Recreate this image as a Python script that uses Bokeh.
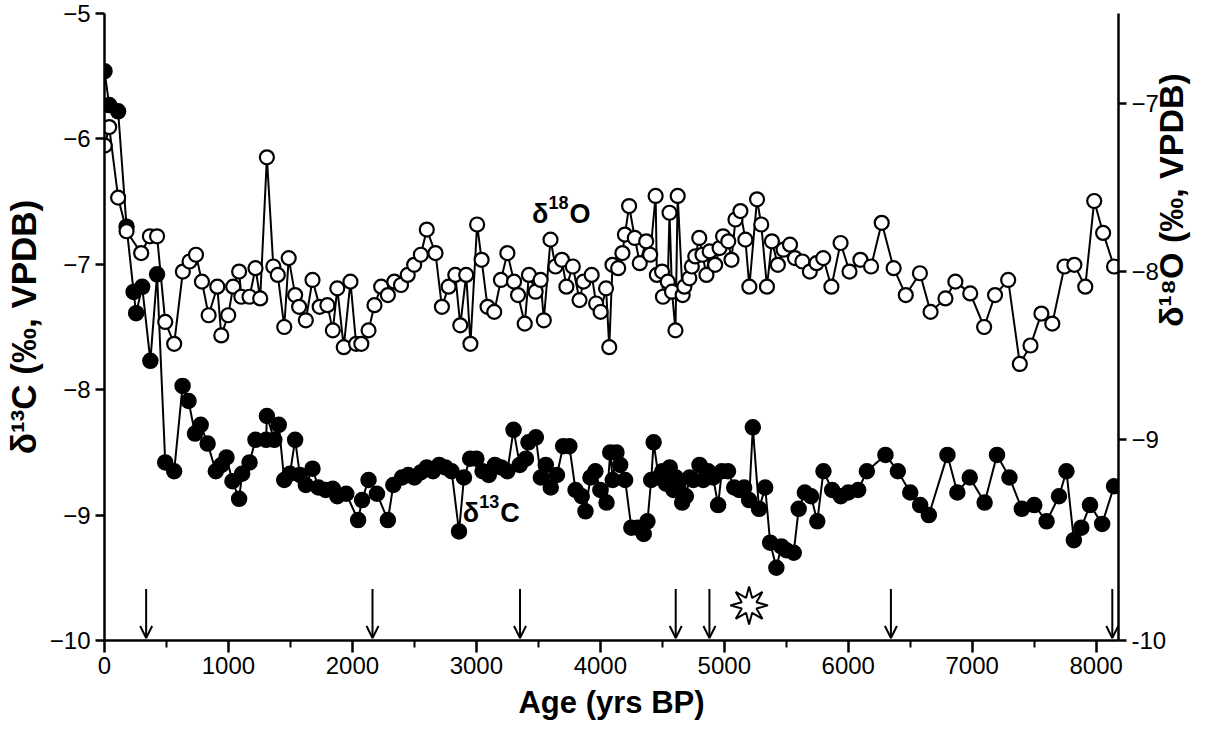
import math
from bokeh.plotting import figure
from bokeh.models import Range1d, LinearAxis, FixedTicker, Arrow, OpenHead, Label, ColumnDataSource
from bokeh.embed import file_html
from bokeh.resources import INLINE

# ---------------- data ----------------
c13_age = [0, 38, 110, 178, 235, 255, 304, 370, 424, 490, 562, 630, 678, 730, 776, 832, 898, 944, 984,
           1032, 1086, 1110, 1170, 1218, 1304, 1310, 1370, 1406, 1450, 1496, 1538, 1576, 1624, 1678,
           1726, 1784, 1842, 1878, 1950, 2046, 2078, 2130, 2198, 2286, 2330,
           2400, 2450, 2500, 2550, 2600, 2650, 2700, 2750, 2800, 2860, 2900, 2950, 3000, 3050, 3100,
           3150, 3200, 3250, 3300, 3350, 3400, 3420, 3480, 3520, 3560, 3600, 3650, 3700, 3750, 3800,
           3850, 3880, 3920, 3960, 4000, 4050, 4080, 4100, 4130, 4160, 4200, 4250, 4300, 4350, 4380,
           4410, 4430, 4470, 4500, 4530, 4560, 4590, 4610, 4630, 4660, 4690, 4720, 4750, 4800, 4830,
           4870, 4910, 4950, 4980, 5030, 5080, 5120, 5160, 5200, 5230, 5280, 5330, 5370, 5420, 5460,
           5500, 5560, 5600, 5650, 5700, 5750, 5800, 5870, 5940, 6000, 6080, 6150, 6300, 6400, 6500,
           6580, 6650, 6800, 6880, 6980, 7100, 7200, 7300, 7400, 7500, 7600, 7700, 7760, 7820, 7880,
           7950, 8048, 8144]
c13_val = [-5.46, -5.73, -5.78, -6.70, -7.22, -7.39, -7.18, -7.77, -7.08, -8.58, -8.65, -7.97, -8.09,
           -8.35, -8.28, -8.43, -8.65, -8.60, -8.54, -8.73, -8.87, -8.67, -8.58, -8.40, -8.40, -8.21,
           -8.40, -8.28, -8.72, -8.67, -8.40, -8.68, -8.76, -8.63, -8.78, -8.80, -8.79, -8.85, -8.83,
           -9.04, -8.88, -8.72, -8.83, -9.04, -8.76,
           -8.70, -8.68, -8.70, -8.66, -8.62, -8.65, -8.60, -8.62, -8.65, -9.13, -8.70, -8.55, -8.55,
           -8.65, -8.68, -8.60, -8.62, -8.65, -8.32, -8.60, -8.55, -8.42, -8.38, -8.70, -8.60, -8.78,
           -8.68, -8.45, -8.45, -8.80, -8.85, -8.97, -8.70, -8.65, -8.80, -8.90, -8.50, -8.72, -8.50,
           -8.60, -8.72, -9.10, -9.10, -9.15, -9.05, -8.72, -8.42, -8.70, -8.65, -8.75, -8.62, -8.80,
           -8.70, -8.78, -8.90, -8.85, -8.70, -8.72, -8.60, -8.72, -8.65, -8.70, -8.92, -8.65, -8.65,
           -8.78, -8.80, -8.78, -8.88, -8.30, -8.95, -8.78, -9.22, -9.42, -9.25, -9.28, -9.30, -8.95,
           -8.82, -8.85, -9.05, -8.65, -8.80, -8.85, -8.82, -8.80, -8.65, -8.52, -8.65, -8.82, -8.92,
           -9.00, -8.52, -8.82, -8.70, -8.90, -8.52, -8.70, -8.95, -8.92, -9.05, -8.85, -8.65, -9.20,
           -9.10, -8.92, -9.07, -8.77]

o18_age = [2, 38, 110, 178, 296, 366, 424, 490, 562, 632, 686, 738, 786, 840, 910, 942, 998, 1038,
           1086, 1104, 1170, 1218, 1256, 1310, 1362, 1398, 1450, 1486, 1538, 1570, 1624, 1678, 1736,
           1798, 1842, 1878, 1930, 1984, 2030, 2072, 2130, 2178, 2232, 2286, 2338, 2392, 2446, 2498,
           2552, 2600, 2670, 2722, 2776, 2830, 2870, 2918, 2952, 3006, 3042, 3090, 3144, 3198, 3250,
           3304, 3336, 3390, 3424, 3478, 3518, 3544, 3598, 3638, 3690, 3726, 3778, 3832, 3864, 3930,
           3966, 4002, 4046, 4072, 4098, 4144, 4178, 4198, 4232, 4278, 4318, 4370, 4402, 4446, 4456,
           4498, 4505, 4544, 4558, 4578, 4606, 4624, 4664, 4678, 4718, 4738, 4766, 4798, 4824, 4856,
           4882, 4926, 4962, 4990, 5032, 5058, 5090, 5130, 5170, 5202, 5264, 5298, 5344, 5384, 5432,
           5478, 5530, 5570, 5630, 5690, 5744, 5798, 5864, 5938, 6010, 6098, 6184, 6270, 6366, 6464,
           6578, 6664, 6784, 6864, 6984, 7096, 7184, 7290, 7384, 7470, 7558, 7646, 7744, 7824, 7912,
           7984, 8056, 8144]
o18_val = [-7.25, -7.14, -7.56, -7.76, -7.89, -7.79, -7.79, -8.30, -8.43, -8.00, -7.94, -7.90, -8.06,
           -8.26, -8.09, -8.38, -8.26, -8.09, -8.00, -8.15, -8.15, -7.98, -8.16, -7.32, -7.97, -8.02,
           -8.33, -7.92, -8.14, -8.21, -8.29, -8.05, -8.21, -8.20, -8.35, -8.10, -8.45, -8.06, -8.43,
           -8.43, -8.35, -8.20, -8.09, -8.14, -8.06, -8.08, -8.02, -7.96, -7.90, -7.75, -7.89, -8.21,
           -8.09, -8.02, -8.32, -8.02, -8.43, -7.72, -7.93, -8.21, -8.24, -8.05, -7.89, -8.06, -8.14,
           -8.31, -8.02, -8.12, -8.05, -8.29, -7.81, -7.97, -7.93, -8.09, -7.97, -8.17, -8.06, -8.02,
           -8.19, -8.24, -8.10, -8.45, -7.96, -7.98, -7.89, -7.78, -7.61, -7.80, -7.95, -7.82, -7.90,
           -7.55, -8.02, -8.00, -8.15, -8.06, -7.65, -8.12, -8.35, -7.55, -8.14, -8.09, -8.04, -7.97,
           -7.91, -7.80, -7.90, -8.02, -7.88, -7.96, -7.86, -7.79, -7.82, -7.93, -7.69, -7.64, -7.81,
           -8.09, -7.57, -7.72, -8.09, -7.82, -7.96, -7.87, -7.84, -7.92, -7.94, -8.00, -7.95, -7.92,
           -8.09, -7.83, -8.00, -7.93, -7.97, -7.71, -7.98, -8.14, -8.01, -8.24, -8.16, -8.06, -8.13,
           -8.33, -8.14, -8.05, -8.55, -8.44, -8.25, -8.31, -7.97, -7.96, -8.09, -7.58, -7.77, -7.97]

arrow_age = [336, 2162, 3352, 4608, 4880, 6344, 8130]
star_age = 5200
star_val = -9.72

x_ticks = [0, 1000, 2000, 3000, 4000, 5000, 6000, 7000, 8000]
left_ticks = [-5, -6, -7, -8, -9, -10]
right_ticks = [-7, -8, -9]
right_bottom_label = "-10"

x_title = "Age (yrs BP)"
left_title = "δ¹³C (‰, VPDB)"
right_title = "δ¹⁸O (‰, VPDB)"
o18_label = ("δ", "18", "O")
c13_label = ("δ", "13", "C")

FONT = "Liberation Sans"

# ---------------- figure ----------------
X_END = 8180
R_START, R_END = -10.196, -6.464

p = figure(width=1212, height=732, x_range=Range1d(0, X_END), y_range=Range1d(-10, -5),
           output_backend="svg", toolbar_location=None,
           min_border_left=99, min_border_right=90, min_border_top=13, min_border_bottom=92)
p.extra_y_ranges = {"o18": Range1d(R_START, R_END)}
p.outline_line_color = None
p.xgrid.visible = False
p.ygrid.visible = False
p.background_fill_color = "white"
p.border_fill_color = "white"

minor_x = [t + 500 for t in x_ticks]

xa = p.xaxis[0]
xa.ticker = FixedTicker(ticks=x_ticks, minor_ticks=minor_x)
xa.axis_label = x_title
ya = p.yaxis[0]
ya.ticker = FixedTicker(ticks=left_ticks, minor_ticks=[])
ya.axis_label = left_title

ra = LinearAxis(y_range_name="o18",
                ticker=FixedTicker(ticks=right_ticks + [R_START], minor_ticks=[]),
                major_label_overrides={R_START: right_bottom_label})
ra.axis_label = right_title
if "axis_label_orientation" in ra.properties():
    ra.axis_label_orientation = math.pi / 2
p.add_layout(ra, "right")

for ax in (xa, ya, ra):
    ax.axis_line_width = 2.5
    ax.axis_line_color = "black"
    ax.major_tick_line_width = 2.5
    ax.major_tick_line_color = "black"
    ax.minor_tick_line_width = 2
    ax.major_tick_in = 0
    ax.minor_tick_in = 0
    ax.major_label_text_font = FONT
    ax.major_label_text_font_size = "24px"
    ax.major_label_text_color = "black"
    ax.axis_label_text_font = FONT
    ax.axis_label_text_font_style = "bold"
    ax.axis_label_text_color = "black"
    ax.axis_label_text_font_size = "34px"

xa.major_tick_out = 12
xa.minor_tick_out = 7
xa.major_label_standoff = 4
xa.axis_label_text_font_size = "31px"
xa.axis_label_standoff = 8
ya.major_tick_out = 9
ya.minor_tick_out = 0
ya.major_label_standoff = 5
ya.axis_label_standoff = 4
ya.axis_label_text_font_size = "35px"
ra.major_tick_out = 8
ra.minor_tick_out = 0
ra.major_label_standoff = 5
ra.axis_label_standoff = 2

# ---------------- series ----------------
src13 = ColumnDataSource(dict(x=c13_age, y=c13_val))
src18 = ColumnDataSource(dict(x=o18_age, y=o18_val))

p.line("x", "y", source=src13, line_color="black", line_width=2)
p.scatter("x", "y", source=src13, size=15, fill_color="black", line_color="black", line_width=1.5)

p.line("x", "y", source=src18, y_range_name="o18", line_color="black", line_width=2)
p.scatter("x", "y", source=src18, y_range_name="o18", size=14, fill_color="white",
          line_color="black", line_width=2.2)


# in-plot labels: delta, superscript mass number, element
def iso_label(parts, x, y, size=27):
    sup = round(size * 0.66)
    w_delta = 0.611 * size
    w_sup = 0.556 * sup * len(parts[1])
    common = dict(x=x, y=y, text_align="left", text_baseline="alphabetic", text_font=FONT,
                  text_font_style="bold", text_color="black")
    p.add_layout(Label(text=parts[0], text_font_size=f"{size}px", **common))
    p.add_layout(Label(text=parts[1], text_font_size=f"{sup}px", x_offset=w_delta,
                       y_offset=0.42 * size, **common))
    p.add_layout(Label(text=parts[2], text_font_size=f"{size}px", x_offset=w_delta + w_sup + 1,
                       **common))


iso_label(o18_label, 3448, -6.595)
iso_label(c13_label, 2890, -8.98)

# arrows
for a in arrow_age:
    p.add_layout(Arrow(x_start=a, y_start=-9.59, x_end=a, y_end=-9.98, line_width=2,
                       line_color="black",
                       end=OpenHead(size=12, line_width=2, line_color="black")))

# star burst (8 points) built around its centre
PX_X = X_END / 1022.5          # years per screen pixel
PX_Y = 5.0 / 627.0             # per-mil per screen pixel
sx, sy = [], []
for i in range(16):
    r = 19 if i % 2 == 0 else 8
    th = math.pi / 2 + i * math.pi / 8
    sx.append(star_age + r * math.cos(th) * PX_X)
    sy.append(star_val + r * math.sin(th) * PX_Y)
p.patch(sx, sy, fill_color="white", line_color="black", line_width=2)

open("out.html", "w").write(file_html(p, INLINE))
